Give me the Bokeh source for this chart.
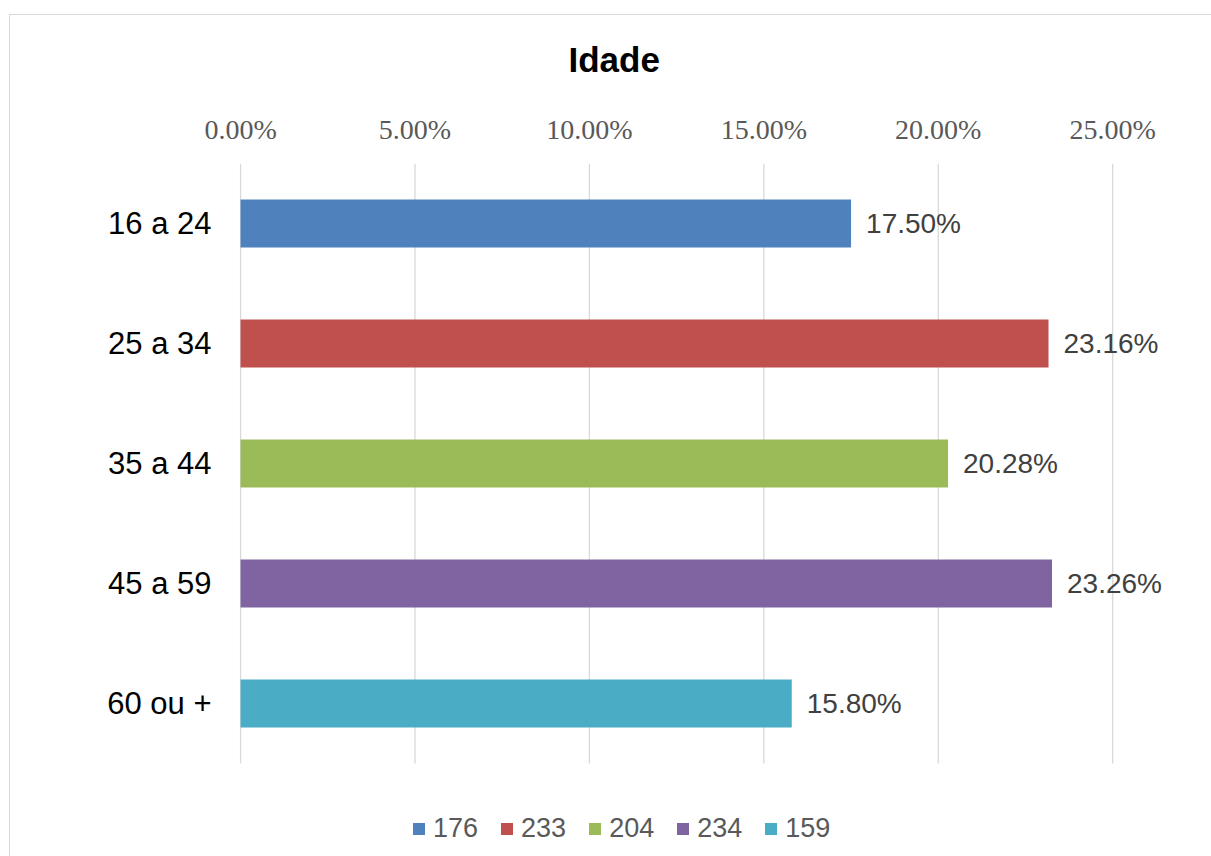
from bokeh.plotting import figure
from bokeh.models import (Range1d, ColumnDataSource, FixedTicker, Legend, LegendItem)
from bokeh.core.properties import value
from bokeh.embed import file_html
from bokeh.resources import INLINE

categories = ["16 a 24", "25 a 34", "35 a 44", "45 a 59", "60 ou +"]
percent_values = [17.50, 23.16, 20.28, 23.26, 15.80]
counts = ["176", "233", "204", "234", "159"]
colors = ["#4F81BD", "#C0504D", "#9BBB59", "#8064A2", "#4BACC6"]
tick_values = [0, 5, 10, 15, 20, 25]
tick_labels = ["0.00%", "5.00%", "10.00%", "15.00%", "20.00%", "25.00%"]
title_text = "Idade"

labels = [f"{v:.2f}%" for v in percent_values]
n = len(categories)
ypos = [n - i - 0.5 for i in range(n)]  # first category at top

W, H = 1211, 856
frame_left, frame_top = 239, 163
frame_w = 951
frame_h = H - frame_top
band_px = 120.0
legend_room = frame_h - n * band_px  # space under the bars for the legend

p = figure(width=W, height=H, output_backend="svg", toolbar_location=None,
           frame_width=frame_w, frame_height=frame_h,
           y_range=Range1d(-legend_room / band_px, n),
           x_range=Range1d(-0.03, 27.23),
           x_axis_location="above",
           min_border_left=frame_left, min_border_right=W - frame_left - frame_w,
           min_border_top=frame_top, min_border_bottom=0)
# thin light-grey chart border (top and left edges) drawn behind the transparent canvas border
p.styles = {"box-shadow": "inset 9px 14px 0 0 #ffffff, inset 10px 15px 0 0 #d9d9d9",
            "background-color": "#ffffff"}

p.outline_line_color = None
p.background_fill_color = "white"
p.border_fill_alpha = 0

# vertical gridlines (only across the category bands)
p.segment(x0=tick_values, x1=tick_values, y0=[0] * len(tick_values),
          y1=[n] * len(tick_values), line_color="#d9d9d9", line_width=1.3)

src = ColumnDataSource(dict(y=ypos, cat=categories, val=percent_values, color=colors,
                            count=counts, label=labels))

bars = p.hbar(y="y", right="val", left=0, height=0.4, fill_color="color",
              line_color=None, source=src)

p.text(x="val", y="y", text="label", source=src, x_offset=15,
       text_align="left", text_baseline="middle",
       text_font=value("Liberation Sans"), text_font_size="28px", text_color="#404040")

# axes
xa = p.xaxis[0]
xa.ticker = FixedTicker(ticks=tick_values)
xa.major_label_overrides = {t: l for t, l in zip(tick_values, tick_labels)}
xa.axis_line_color = None
xa.major_tick_line_color = None
xa.minor_tick_line_color = None
xa.major_tick_out = 0
xa.major_tick_in = 0
xa.major_label_text_font = "Liberation Serif"
xa.major_label_text_font_size = "28px"
xa.major_label_text_color = "#595959"
xa.major_label_standoff = 19

ya = p.yaxis[0]
ya.ticker = FixedTicker(ticks=ypos)
ya.major_label_overrides = {y: c for y, c in zip(ypos, categories)}
ya.axis_line_color = None
ya.major_tick_line_color = None
ya.minor_tick_line_color = None
ya.major_label_text_font = "Liberation Sans"
ya.major_label_text_font_size = "31px"
ya.major_label_text_color = "#000000"
ya.major_label_standoff = 22

p.xgrid.grid_line_color = None
p.ygrid.grid_line_color = None

# title
p.title.text = title_text
p.title.text_font = "Liberation Sans"
p.title.text_font_size = "35px"
p.title.text_font_style = "bold"
p.title.text_color = "#000000"
p.title.align = "left"
p.title.offset = 329
p.title.standoff = 64

# legend (inside the frame, below the bars)
items = []
for i, c in enumerate(counts):
    items.append(LegendItem(label=c, renderers=[bars], index=i))
legend = Legend(items=items, orientation="horizontal", location=(172, 12),
                glyph_width=15, glyph_height=15, label_standoff=7, spacing=21,
                padding=0, margin=0, border_line_color=None,
                label_text_font="Liberation Sans", label_text_font_size="27px",
                label_text_color="#595959", background_fill_alpha=0)
p.add_layout(legend, "center")

open("out.html", "w").write(file_html(p, INLINE))
